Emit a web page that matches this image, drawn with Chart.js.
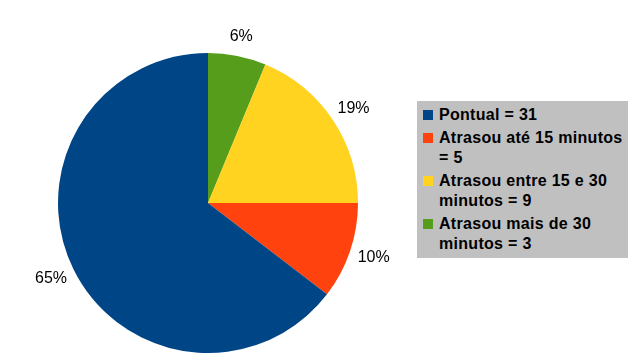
<!DOCTYPE html>
<html><head><meta charset="utf-8">
<script src="https://cdn.jsdelivr.net/npm/chart.js@4"></script>
<style>
html,body{margin:0;padding:0;background:#fff;}
#wrap{position:relative;width:640px;height:361px;}
#c{position:absolute;left:0;top:0;}
#legend{position:absolute;left:417px;top:101px;width:211px;height:157px;background:#c0c0c0;box-sizing:border-box;padding:4px 0 0 6px;
font-family:"Liberation Sans",Arial,sans-serif;font-weight:bold;font-size:16px;letter-spacing:0.3px;line-height:20px;color:#000;white-space:nowrap;}
.item{position:relative;padding-left:16px;margin-bottom:3px;}
.sw{position:absolute;left:0;top:5px;width:10px;height:10px;}
</style></head>
<body><div id="wrap"><canvas id="c" width="640" height="361"></canvas><div id="legend"></div></div>
<script>
// Legend order
const categories = ["Pontual", "Atrasou até 15 minutos", "Atrasou entre 15 e 30 minutos", "Atrasou mais de 30 minutos"];
const values = [31, 5, 9, 3];
const colors = ["#004586", "#ff420e", "#ffd320", "#579d1c"];
const legendLines = [["Pontual = 31"], ["Atrasou até 15 minutos", "= 5"], ["Atrasou entre 15 e 30", "minutos = 9"], ["Atrasou mais de 30", "minutos = 3"]];

// drawing order (clockwise from top): reversed
const order = [3, 2, 1, 0];
const total = values.reduce((a, b) => a + b, 0);

const lg = document.getElementById('legend');
categories.forEach((c, i) => {
  const d = document.createElement('div'); d.className = 'item';
  const s = document.createElement('span'); s.className = 'sw'; s.style.background = colors[i];
  d.appendChild(s);
  legendLines[i].forEach((ln, k) => {
    if (k > 0) d.appendChild(document.createElement('br'));
    d.appendChild(document.createTextNode(ln));
  });
  lg.appendChild(d);
});

const pctPlugin = {
  id: 'pct',
  afterDatasetsDraw(chart) {
    const ctx = chart.ctx;
    const meta = chart.getDatasetMeta(0);
    ctx.save();
    ctx.font = '16px "Liberation Sans", Arial, sans-serif';
    ctx.fillStyle = '#000';
    ctx.textAlign = 'center';
    ctx.textBaseline = 'middle';
    meta.data.forEach((arc, i) => {
      const v = chart.data.datasets[0].data[i];
      const txt = Math.round(v / total * 100) + '%';
      const mid = (arc.startAngle + arc.endAngle) / 2;
      const w = ctx.measureText(txt).width;
      const r = arc.outerRadius + 8;
      const cx = Math.cos(mid), cy = Math.sin(mid);
      const x = arc.x + cx * r + cx * (w / 2 + 1);
      const y = arc.y + cy * r + cy * 12;
      ctx.fillText(txt, x, y);
    });
    ctx.restore();
  }
};

new Chart(document.getElementById('c'), {
  type: 'pie',
  data: {
    labels: order.map(i => categories[i]),
    datasets: [{
      data: order.map(i => values[i]),
      backgroundColor: order.map(i => colors[i]),
      borderWidth: 0
    }]
  },
  options: {
    responsive: false,
    animation: false,
    layout: { padding: { left: 58, right: 282, top: 53, bottom: 8 } },
    plugins: { legend: { display: false }, tooltip: { enabled: false } }
  },
  plugins: [pctPlugin]
});
</script></body></html>
